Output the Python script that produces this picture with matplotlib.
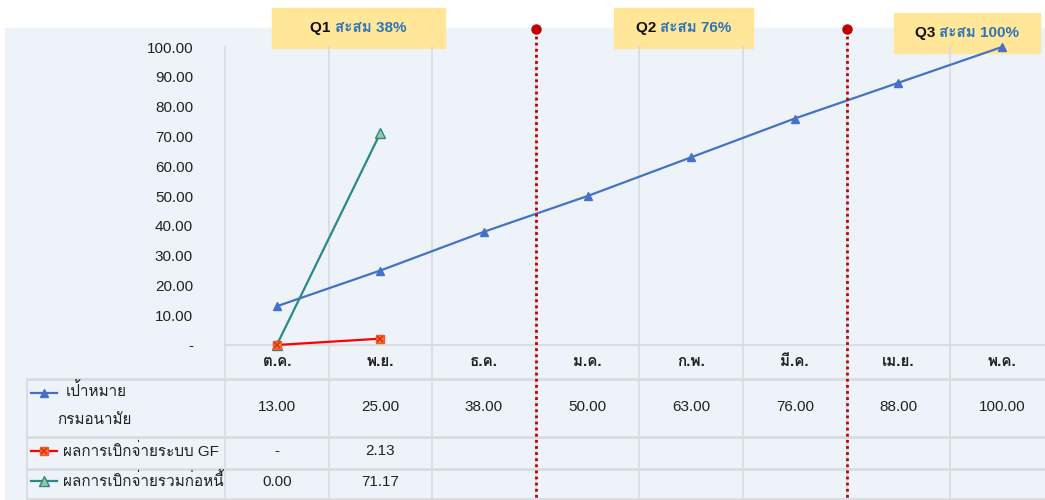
import numpy as np
import matplotlib
matplotlib.use("Agg")
import matplotlib.pyplot as plt
from matplotlib import font_manager
from matplotlib.ft2font import FT2Font
from matplotlib.transforms import blended_transform_factory

# ------------------------------------------------------------------
# Data
# ------------------------------------------------------------------
months = ["ต.ค.", "พ.ย.", "ธ.ค.", "ม.ค.", "ก.พ.", "มี.ค.", "เม.ย.", "พ.ค."]
target = [13.00, 25.00, 38.00, 50.00, 63.00, 76.00, 88.00, 100.00]
gf_paid = [0.00, 2.13]
gf_labels = ["-", "2.13"]
committed = [0.00, 71.17]
committed_labels = ["0.00", "71.17"]
series_names = ["เป้าหมาย\nกรมอนามัย", "ผลการเบิกจ่ายระบบ GF", "ผลการเบิกจ่ายรวมก่อหนี้"]
quarters = [("Q1", "สะสม 38%"), ("Q2", "สะสม 76%"), ("Q3", "สะสม 100%")]
quarter_ends = [2.5, 5.5]


def find_thai_font():
    for f in font_manager.fontManager.ttflist:
        try:
            if 0x0E01 in FT2Font(f.fname).get_charmap():
                return f.name
        except Exception:
            pass
    return None


thai = find_thai_font()
families = ["Liberation Sans"] + ([thai] if thai else []) + ["DejaVu Sans"]
plt.rcParams["font.family"] = families

W, H = 1045, 500
BG = "#eef3fa"
GRID = "#d9dce1"
BLUE = "#4472c4"
RED = "#ff0000"
TEAL = "#2a8a85"
TXT = "#222222"

fig = plt.figure(figsize=(W / 100, H / 100), dpi=100)

# pixel overlay for background/table
ov = fig.add_axes([0, 0, 1, 1], zorder=0)
ov.set_xlim(0, W)
ov.set_ylim(H, 0)
ov.axis("off")
ov.add_patch(plt.Rectangle((5, 28), W - 5, H - 28, color=BG, zorder=0))

# main plot axis: x columns -0.5..7.5 map to px 225..1054
col_w = 103.6
left_px, top_px, bot_px = 225, 47, 345
ax = fig.add_axes([left_px / W, (H - bot_px) / H, 8 * col_w / W, (bot_px - top_px) / H], zorder=1)
ax.patch.set_alpha(0)
ax.set_xlim(-0.5, 7.5)
ax.set_ylim(0, 100)
for s in ax.spines.values():
    s.set_visible(False)
ax.set_xticks([])
ax.set_yticks(np.arange(0, 101, 10))
ax.set_yticklabels(["-"] + [f"{v:.2f}" for v in np.arange(10, 101, 10)], fontsize=11, color=TXT)
ax.tick_params(axis="y", length=0, pad=23)

tr = blended_transform_factory(ax.transData, ov.transData)
x = np.arange(len(months))

# grid / table lines
for b in np.arange(-0.5, 8, 1.0):
    ax.plot([b, b], [top_px, H], transform=tr, color=GRID, lw=1.3, clip_on=False, zorder=0)
ov.plot([left_px, W], [bot_px, bot_px], color=GRID, lw=1.5)
for yy in [379, 437, 469, 499]:
    ov.plot([27, W], [yy, yy], color=GRID, lw=2)
ov.plot([27, 27], [379, H], color=GRID, lw=1.5)

# series
ax.plot(x, target, color=BLUE, lw=1.6, marker="^", ms=5.5, mfc=BLUE, mec=BLUE, clip_on=False, zorder=3)
ax.plot(x[:2], committed, color=TEAL, lw=1.6, marker="^", ms=6.5, mfc="#9dc3a8", mec=TEAL, clip_on=False, zorder=3)
ax.plot(x[:2], gf_paid, color=RED, lw=1.6, marker="s", ms=6, mfc="#f4793b", mec="#f05a28", clip_on=False, zorder=4)
ax.plot(x[:2], gf_paid, ls="none", marker="x", ms=5, mec="#e03010", mew=1.2, clip_on=False, zorder=5)

# quarter dividers
for q in quarter_ends:
    ax.plot([q, q], [30, H], transform=tr, color="#c00000", lw=2, ls=(0, (1, 1.2)), clip_on=False, zorder=6)
    ax.plot([q], [29], transform=tr, marker="o", ms=6.5, color="#c00000", clip_on=False, zorder=6)

# quarter boxes
boxes = [(272, 8, 445, 48), (614, 8, 753, 48), (894, 13, 1040, 53)]
for (q, txt), (x0, y0, x1, y1) in zip(quarters, boxes):
    ov.add_patch(plt.Rectangle((x0, y0), x1 - x0, y1 - y0, color="#ffe699", zorder=7))
    cx, cy = (x0 + x1) / 2, (y0 + y1) / 2
    t1 = ov.text(cx, cy, q + " ", ha="right", va="center", fontsize=11, fontweight="bold", color="#111111", zorder=8)
    fig.canvas.draw()
    w1 = t1.get_window_extent().width
    t2 = ov.text(cx, cy, txt, ha="left", va="center", fontsize=11, fontweight="bold", color="#2e75b6", zorder=8)
    w2 = t2.get_window_extent().width
    shift = (w1 - w2) / 2
    t1.set_x(cx + shift)
    t2.set_x(cx + shift)

# month header
for i, m in enumerate(months):
    ax.text(i, 362, m, transform=tr, ha="center", va="center", fontsize=11, fontweight="bold", color=TXT)

# table values
rows_y = [407, 451, 482]
for i, v in enumerate(target):
    ax.text(i, rows_y[0], f"{v:.2f}", transform=tr, ha="center", va="center", fontsize=11, color=TXT)
for i, v in enumerate(gf_labels):
    ax.text(i, rows_y[1], v, transform=tr, ha="center", va="center", fontsize=11, color=TXT)
for i, v in enumerate(committed_labels):
    ax.text(i, rows_y[2], v, transform=tr, ha="center", va="center", fontsize=11, color=TXT)

# legend keys inside table
ov.plot([31, 57], [393, 393], color=BLUE, lw=1.6)
ov.plot([44], [393], marker="^", ms=5.5, color=BLUE)
l1, l2 = series_names[0].split("\n")
ov.text(96, 391, l1, ha="center", va="center", fontsize=11, color=TXT)
ov.text(94, 420, l2, ha="center", va="center", fontsize=11, color=TXT)

ov.plot([31, 57], [451, 451], color=RED, lw=1.6)
ov.plot([44], [451], marker="s", ms=6, mfc="#f4793b", mec="#f05a28")
ov.plot([44], [451], marker="x", ms=5, mec="#e03010", mew=1.2)
ov.text(63, 451, series_names[1], ha="left", va="center", fontsize=11, color=TXT)

ov.plot([31, 57], [481, 481], color=TEAL, lw=1.6)
ov.plot([44], [481], marker="^", ms=6.5, mfc="#9dc3a8", mec=TEAL)
ov.text(63, 481, series_names[2], ha="left", va="center", fontsize=11, color=TXT)

fig.savefig("out.png", dpi=100)
